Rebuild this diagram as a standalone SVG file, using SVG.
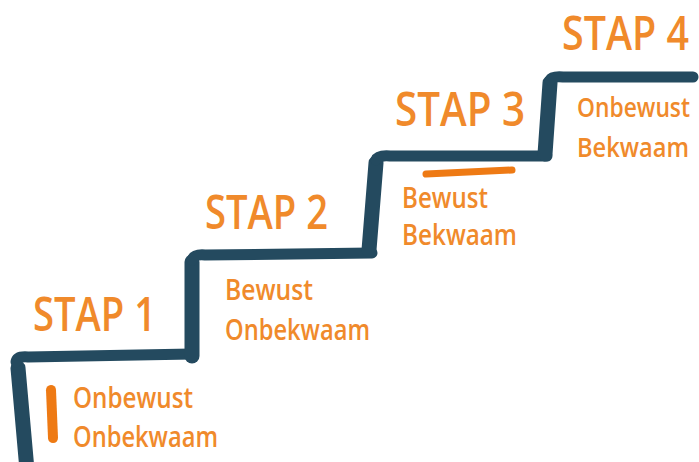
<svg xmlns="http://www.w3.org/2000/svg" width="699" height="462" viewBox="0 0 699 462">
<style>
.stair{fill:none;stroke:#244a5f;stroke-linecap:round;stroke-linejoin:round}
.v{stroke-width:15}
.h{stroke-width:11}
.mark{fill:none;stroke:#ee7a14;stroke-linecap:round}
.head{font-family:"Open Sans","Liberation Sans",sans-serif;font-weight:600;font-size:47px;fill:#f08a2b}
.sub{font-family:"Open Sans","Liberation Sans",sans-serif;font-weight:600;font-size:28px;fill:#f08a2b}
.head4{font-size:40px}
.sub4{font-size:23px}
</style>
<rect width="699" height="462" fill="#ffffff"/>
<g id="connectors">
<path class="stair v" d="M 27,470 L 18,368"/>
<path class="stair h" d="M 16,362 Q 17,356 28,357 L 192,354"/>
<path class="stair v" d="M 192,356 L 192,262"/>
<path class="stair h" d="M 192,260 Q 194,254 205,255 L 372,253"/>
<path class="stair v" d="M 369,250 L 376,163"/>
<path class="stair h" d="M 376,160 Q 378,155 390,156 L 547,156"/>
<path class="stair v" d="M 545,154 L 550,83"/>
<path class="stair h" d="M 550,80 Q 552,76 563,77 L 693,77"/>
</g>
<g id="step1">
<text class="head" x="33" y="331" textLength="123" lengthAdjust="spacingAndGlyphs">STAP 1</text>
<path class="mark" d="M 51,390 L 53,438" stroke-width="10"/>
<text class="sub" x="73" y="408" textLength="120" lengthAdjust="spacingAndGlyphs">Onbewust</text>
<text class="sub" x="73" y="447" textLength="145" lengthAdjust="spacingAndGlyphs">Onbekwaam</text>
</g>
<g id="step2">
<text class="head" x="205" y="229" textLength="123" lengthAdjust="spacingAndGlyphs">STAP 2</text>
<text class="sub" x="225" y="300" textLength="88" lengthAdjust="spacingAndGlyphs">Bewust</text>
<text class="sub" x="225" y="340" textLength="145" lengthAdjust="spacingAndGlyphs">Onbekwaam</text>
</g>
<g id="step3">
<text class="head" x="395" y="126" textLength="130" lengthAdjust="spacingAndGlyphs">STAP 3</text>
<path class="mark" d="M 426,174 L 512,170" stroke-width="7"/>
<text class="sub" x="402" y="208" textLength="86" lengthAdjust="spacingAndGlyphs">Bewust</text>
<text class="sub" x="402" y="245" textLength="115" lengthAdjust="spacingAndGlyphs">Bekwaam</text>
</g>
<g id="step4">
<text class="head head4" transform="translate(562,50) scale(1,1.17)" x="0" y="0" textLength="127" lengthAdjust="spacingAndGlyphs">STAP 4</text>
<text class="sub sub4" transform="translate(577,117) scale(1,1.2)" x="0" y="0" textLength="113" lengthAdjust="spacingAndGlyphs">Onbewust</text>
<text class="sub sub4" transform="translate(577,157) scale(1,1.2)" x="0" y="0" textLength="112" lengthAdjust="spacingAndGlyphs">Bekwaam</text>
</g>
</svg>
